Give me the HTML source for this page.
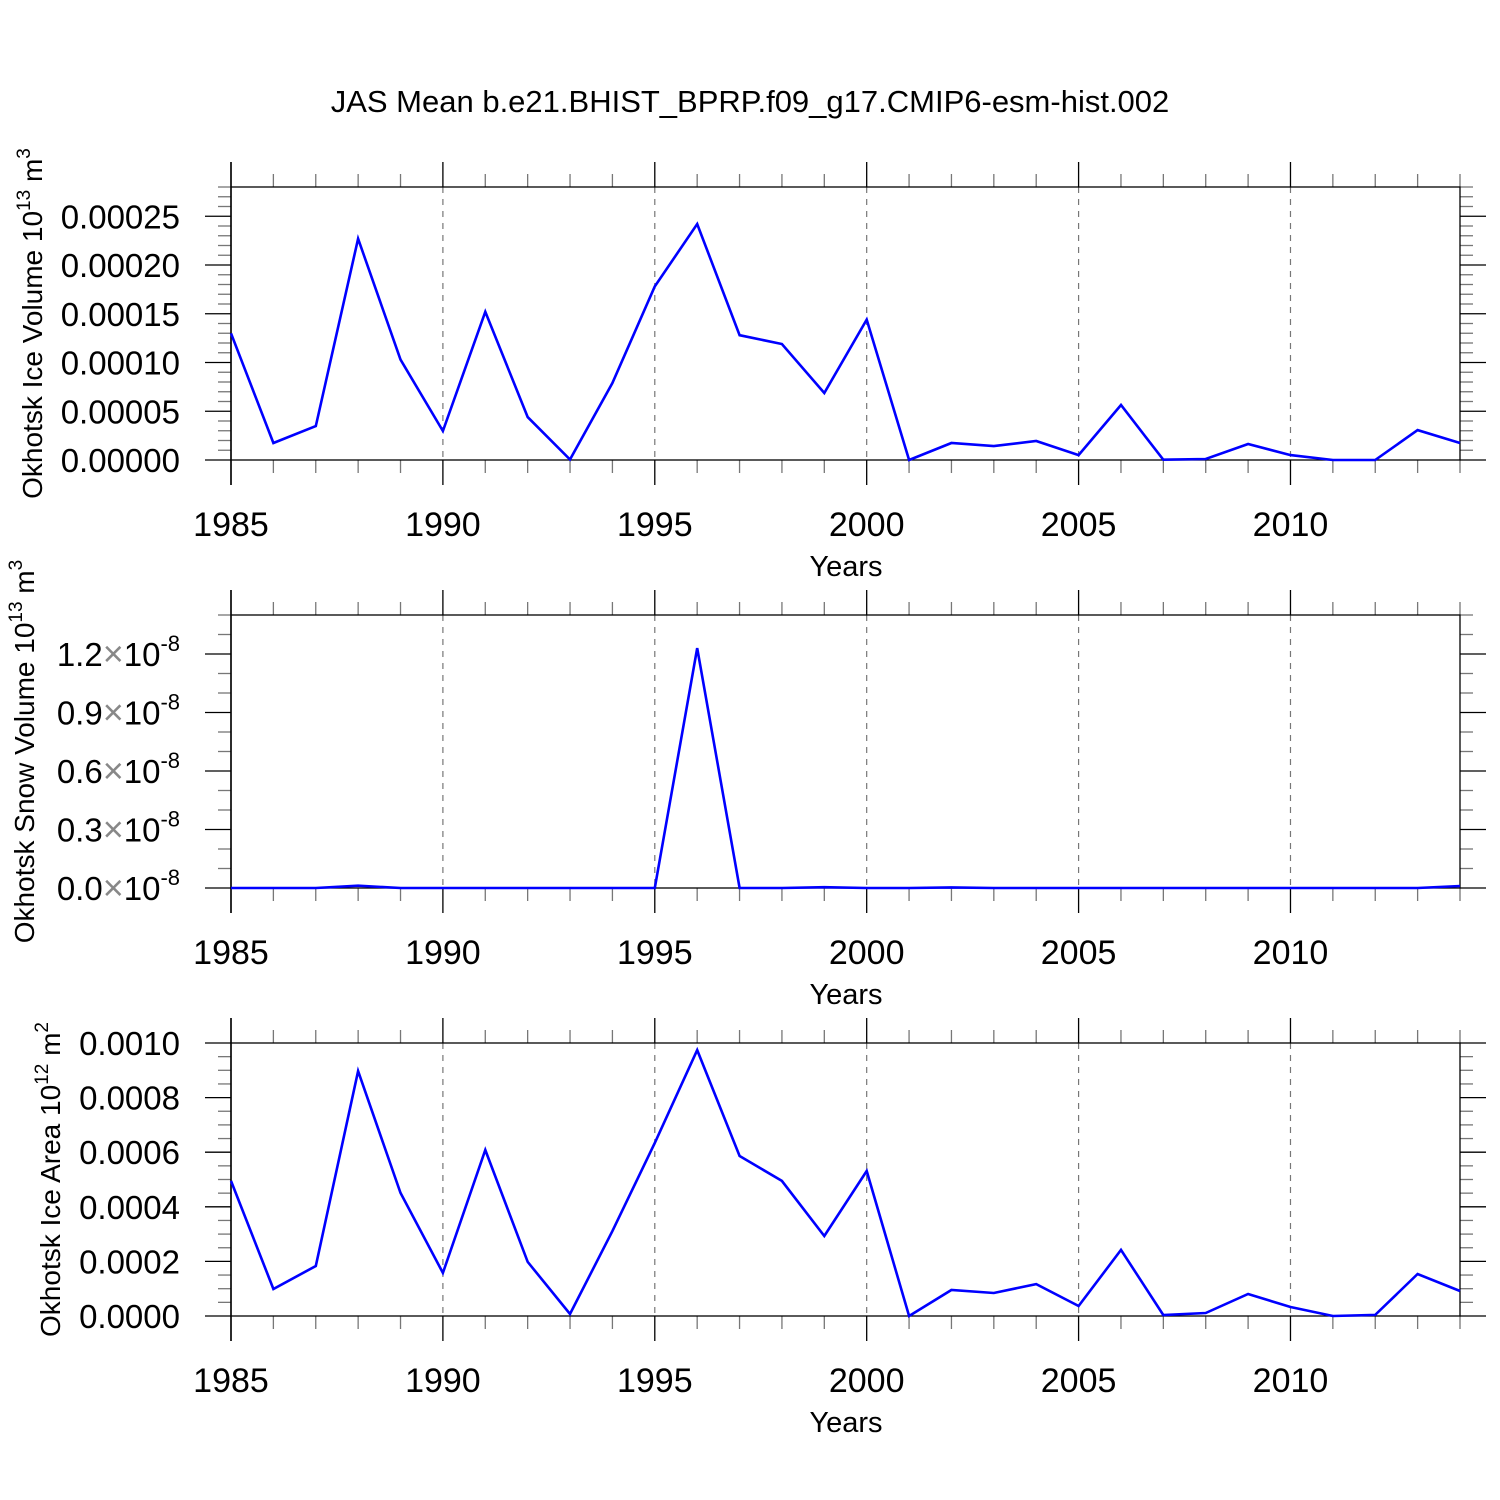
<!DOCTYPE html>
<html><head><meta charset="utf-8"><style>
html,body{margin:0;padding:0;background:#fff;}
svg{display:block;font-family:"Liberation Sans",sans-serif;}
</style></head><body>
<svg id="chart" width="1500" height="1500" viewBox="0 0 1500 1500">
<text x="750" y="112" text-anchor="middle" font-size="31">JAS Mean b.e21.BHIST_BPRP.f09_g17.CMIP6-esm-hist.002</text>
</svg>
<script>
const years = [1985,1986,1987,1988,1989,1990,1991,1992,1993,1994,1995,1996,1997,1998,1999,2000,2001,2002,2003,2004,2005,2006,2007,2008,2009,2010,2011,2012,2013,2014];
const iceVolume = [0.000130,0.0000174,0.0000348,0.000227,0.000103,0.0000297,0.000152,0.000044,0.0000005,0.000079,0.000178,0.000242,0.000128,0.000119,0.0000687,0.000144,0,0.0000174,0.0000143,0.0000195,0.000005,0.0000564,0.0000003,0.000001,0.0000164,0.000005,0,0,0.0000307,0.0000174];
const snowVolume = [0,0,0,0.012,0,0,0,0,0,0,0,1.23,0,0,0.004,0,0,0.003,0,0,0,0,0,0,0,0,0,0,0,0.01]; // units of 1e-8
const iceArea = [0.000495,0.0000989,0.000183,0.000897,0.000451,0.000158,0.000608,0.000198,0.0000073,0.000311,0.000634,0.000974,0.000586,0.000495,0.000293,0.000531,0,0.0000952,0.0000842,0.000117,0.0000366,0.000242,0.0000037,0.000011,0.0000806,0.000033,0,0.000004,0.000154,0.0000916];
const xTickLabels = ["1985","1990","1995","2000","2005","2010"];
const volTicks = ["0.00000","0.00005","0.00010","0.00015","0.00020","0.00025"];
const snowTicks = ["0.0","0.3","0.6","0.9","1.2"];
const areaTicks = ["0.0000","0.0002","0.0004","0.0006","0.0008","0.0010"];

const NS="http://www.w3.org/2000/svg";
const svg=document.getElementById('chart');
const X0=231,X1=1460;
function xs(yr){return X0+(yr-1985)*(X1-X0)/29;}
function mk(tag,attrs,parent){const e=document.createElementNS(NS,tag);for(const k in attrs)e.setAttribute(k,attrs[k]);(parent||svg).appendChild(e);return e;}

function panel(name,top,bottom,ymin,ymax,majorStep,minorStep,tickLabels,data,ytitle,ytitleX,isSnow){
  const g=mk('g',{});
  
  
  const ys=v=>bottom-(v-ymin)*(bottom-top)/(ymax-ymin);
  for(let yr=1990;yr<=2010;yr+=5){
    const l=mk('line',{x1:xs(yr),x2:xs(yr),y1:top,y2:bottom,stroke:'#777','stroke-width':1.2,'stroke-dasharray':'6,6'},g);
    
    
  }
  for(let yr=1985;yr<=2014;yr++){
    const maj=(yr%5===0), len=maj?25:13;
    const x=xs(yr);
    mk('line',{x1:x,x2:x,y1:top-len,y2:top,stroke:maj?'#000':'#777','stroke-width':1.3},g);
    mk('line',{x1:x,x2:x,y1:bottom,y2:bottom+len,stroke:maj?'#000':'#777','stroke-width':1.3},g);
  }
  xTickLabels.forEach((t)=>{
    const tx=mk('text',{x:xs(+t),y:bottom+76,'text-anchor':'middle','font-size':34},g);
    tx.textContent=t;
    
    
  });
  const xt=mk('text',{x:846,y:bottom+116,'text-anchor':'middle','font-size':29},g);
  xt.textContent='Years';
  
  
  const nMin=Math.round((ymax-ymin)/minorStep);
  for(let i=0;i<=nMin;i++){
    const v=ymin+i*minorStep;
    const r=v/majorStep; const maj=Math.abs(r-Math.round(r))<1e-6;
    const len=maj?26:13, y=ys(v);
    mk('line',{x1:X0-len,x2:X0,y1:y,y2:y,stroke:maj?'#000':'#777','stroke-width':1.3},g);
    mk('line',{x1:X1,x2:X1+len,y1:y,y2:y,stroke:maj?'#000':'#777','stroke-width':1.3},g);
  }
  tickLabels.forEach((t)=>{
    const v=+t, y=ys(v)+12;
    const tx=mk('text',{x:180,y:y,'text-anchor':'end','font-size':33},g);
    
    
    if(isSnow){
      tx.innerHTML=t+'<tspan fill="#888" font-size="36" font-weight="100">\u00d7</tspan>10<tspan dy="-15" font-size="22">-8</tspan>';
    } else tx.textContent=t;
  });
  const fr=mk('rect',{x:X0,y:top,width:X1-X0,height:bottom-top,fill:'none',stroke:'#000','stroke-width':1.3},g);
  
  
  mk('line',{x1:X0,x2:X0,y1:top-25,y2:bottom+25,stroke:'#000','stroke-width':1.5},g);
  const pts=years.map((yr,i)=>xs(yr).toFixed(1)+','+ys(data[i]).toFixed(1)).join(' ');
  const pl=mk('polyline',{points:pts,fill:'none',stroke:'#0000ff','stroke-width':2.6,'stroke-linejoin':'miter'},g);
  
  
  const cy=(top+bottom)/2;
  const yt=mk('text',{transform:`translate(${ytitleX},${cy}) rotate(-90)`,'text-anchor':'middle','font-size':28},g);
  yt.innerHTML=ytitle;
  
  
}
panel('ice-volume',187,460,0,0.00028,0.00005,0.00001,volTicks,iceVolume,'Okhotsk Ice Volume 10<tspan dy="-12" font-size="19">13</tspan><tspan dy="12"> m</tspan><tspan dy="-12" font-size="19">3</tspan>',42,false);
panel('snow-volume',615,888,0,1.4,0.3,0.1,snowTicks,snowVolume,'Okhotsk Snow Volume 10<tspan dy="-12" font-size="19">13</tspan><tspan dy="12"> m</tspan><tspan dy="-12" font-size="19">3</tspan>',34,true);
panel('ice-area',1043,1316,0,0.001,0.0002,0.00005,areaTicks,iceArea,'Okhotsk Ice Area 10<tspan dy="-12" font-size="19">12</tspan><tspan dy="12"> m</tspan><tspan dy="-12" font-size="19">2</tspan>',60,false);
</script>
</body></html>
